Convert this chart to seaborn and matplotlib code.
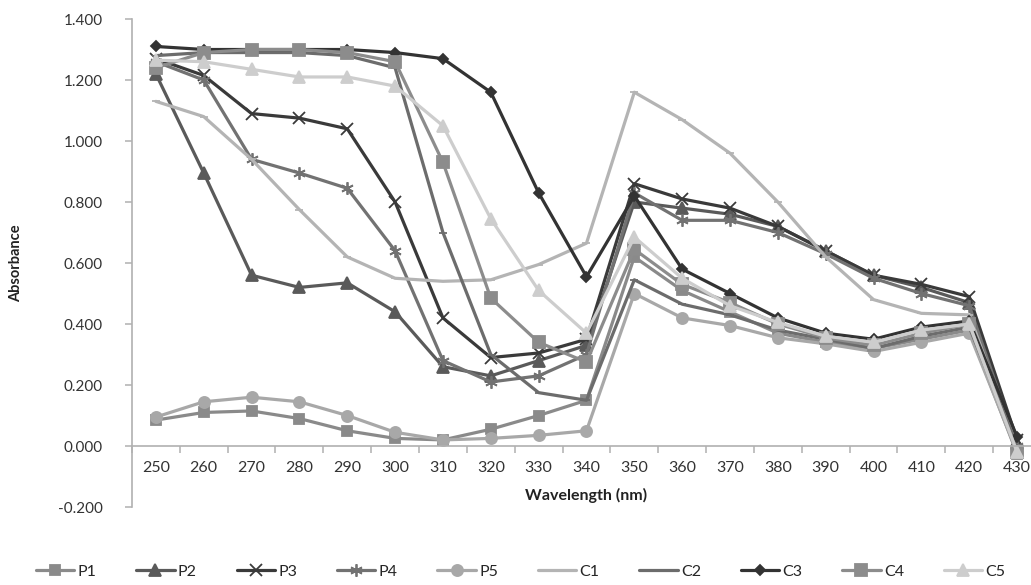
import matplotlib
matplotlib.use("Agg")
import numpy as np
import pandas as pd
import matplotlib.pyplot as plt
from matplotlib.ticker import FixedLocator, FormatStrFormatter
import seaborn as sns

# absorbance spectra
wavelength = [250, 260, 270, 280, 290, 300, 310, 320, 330, 340,
              350, 360, 370, 380, 390, 400, 410, 420, 430]

p1 = [0.085, 0.11, 0.115, 0.09, 0.05, 0.025, 0.02, 0.055, 0.10, 0.15,
      0.62, 0.51, 0.44, 0.37, 0.34, 0.32, 0.35, 0.38, -0.025]
p2 = [1.22, 0.895, 0.56, 0.52, 0.535, 0.44, 0.26, 0.23, 0.28, 0.33,
      0.80, 0.78, 0.76, 0.72, 0.64, 0.56, 0.52, 0.47, 0.01]
p3 = [1.27, 1.215, 1.09, 1.075, 1.04, 0.80, 0.42, 0.29, 0.305, 0.35,
      0.86, 0.81, 0.78, 0.72, 0.64, 0.56, 0.53, 0.49, 0.02]
p4 = [1.26, 1.20, 0.94, 0.895, 0.845, 0.64, 0.28, 0.21, 0.23, 0.30,
      0.83, 0.74, 0.74, 0.70, 0.63, 0.55, 0.50, 0.46, 0.0]
p5 = [0.095, 0.145, 0.16, 0.145, 0.10, 0.045, 0.02, 0.025, 0.035, 0.05,
      0.50, 0.42, 0.395, 0.355, 0.335, 0.31, 0.34, 0.37, -0.02]
c1 = [1.13, 1.08, 0.94, 0.775, 0.62, 0.55, 0.54, 0.545, 0.595, 0.665,
      1.16, 1.07, 0.96, 0.80, 0.62, 0.48, 0.435, 0.43, 0.0]
c2 = [1.28, 1.29, 1.29, 1.29, 1.28, 1.24, 0.70, 0.30, 0.175, 0.15,
      0.545, 0.465, 0.43, 0.38, 0.35, 0.32, 0.36, 0.39, 0.0]
c3 = [1.31, 1.30, 1.30, 1.30, 1.30, 1.29, 1.27, 1.16, 0.83, 0.555,
      0.82, 0.58, 0.50, 0.42, 0.37, 0.35, 0.39, 0.41, 0.03]
c4 = [1.24, 1.29, 1.30, 1.30, 1.29, 1.26, 0.93, 0.485, 0.34, 0.275,
      0.645, 0.53, 0.47, 0.40, 0.355, 0.33, 0.37, 0.40, -0.02]
c5 = [1.265, 1.26, 1.235, 1.21, 1.21, 1.18, 1.05, 0.745, 0.51, 0.37,
      0.685, 0.55, 0.46, 0.405, 0.36, 0.34, 0.38, 0.40, -0.02]

series_names = ["P1", "P2", "P3", "P4", "P5", "C1", "C2", "C3", "C4", "C5"]
series_vals = [p1, p2, p3, p4, p5, c1, c2, c3, c4, c5]

# style per series: colour, marker, marker size
styles = {
    "P1": ("#8a8a8a", "s", 7),
    "P2": ("#5a5a5a", "^", 8),
    "P3": ("#3a3a3a", "x", 8),
    "P4": ("#727272", (6, 2, 0), 9),
    "P5": ("#a8a8a8", "o", 8),
    "C1": ("#b4b4b4", "_", 6),
    "C2": ("#6c6c6c", "_", 6),
    "C3": ("#333333", "D", 5.5),
    "C4": ("#8c8c8c", "s", 9),
    "C5": ("#cdcdcd", "^", 8),
}

df = pd.DataFrame({"Wavelength": wavelength})
for name, vals in zip(series_names, series_vals):
    df[name] = vals
long_df = df.melt(id_vars="Wavelength", var_name="Sample", value_name="Absorbance")

sns.set_style("white")
plt.rcParams["font.family"] = ["Lato", "DejaVu Sans"]

fig = plt.figure(figsize=(10.31, 5.85), dpi=100)
ax = fig.add_axes([0.128, 0.1333, 0.8817, 0.8342])

for name in series_names:
    col, mk, ms = styles[name]
    sub = long_df[long_df["Sample"] == name]
    sns.lineplot(
        data=sub, x="Wavelength", y="Absorbance", ax=ax,
        color=col, marker=mk, markersize=ms, linewidth=2.3,
        markeredgecolor=col, markeredgewidth=1.3, label=name,
    )

ax.set_xlim(245, 435)
ax.set_ylim(-0.2, 1.4)

# axes styled like the spreadsheet chart
for s in ["top", "right"]:
    ax.spines[s].set_visible(False)
ax.spines["bottom"].set_position(("data", 0))
ax.spines["bottom"].set_color("#b0b0b0")
ax.spines["left"].set_color("#b0b0b0")
ax.spines["bottom"].set_linewidth(1.2)
ax.spines["left"].set_linewidth(1.2)

ax.set_yticks(np.arange(-0.2, 1.41, 0.2))
ax.yaxis.set_major_formatter(FormatStrFormatter("%.3f"))
ax.tick_params(axis="y", direction="out", length=5, width=1.1, color="#b0b0b0",
               pad=16, labelsize=11, labelcolor="#333333", left=True)

ax.set_xticks(wavelength)
ax.set_xticklabels([str(w) for w in wavelength])
ax.xaxis.set_minor_locator(FixedLocator(np.arange(245, 436, 10)))
ax.tick_params(axis="x", which="major", length=0, pad=11, labelsize=11.5,
               labelcolor="#333333")
ax.tick_params(axis="x", which="minor", direction="out", length=5, width=1.1,
               color="#b0b0b0", bottom=True)

ax.set_xlabel("Wavelength (nm)", fontsize=11.5, fontweight="bold", color="#222222")
ax.xaxis.set_label_coords(0.5, 0.04)
ax.set_ylabel("Absorbance", fontsize=10.5, fontweight="bold", color="#222222")
ax.yaxis.set_label_coords(-0.12, 0.5)

handles, labels = ax.get_legend_handles_labels()
ax.legend(handles, labels, loc="lower center", bbox_to_anchor=(0.505, -0.014),
          bbox_transform=fig.transFigure, ncol=10, frameon=False, fontsize=11.5,
          handlelength=2.4, handletextpad=0.2, columnspacing=2.5, numpoints=1)

fig.savefig("out.png", dpi=100)
